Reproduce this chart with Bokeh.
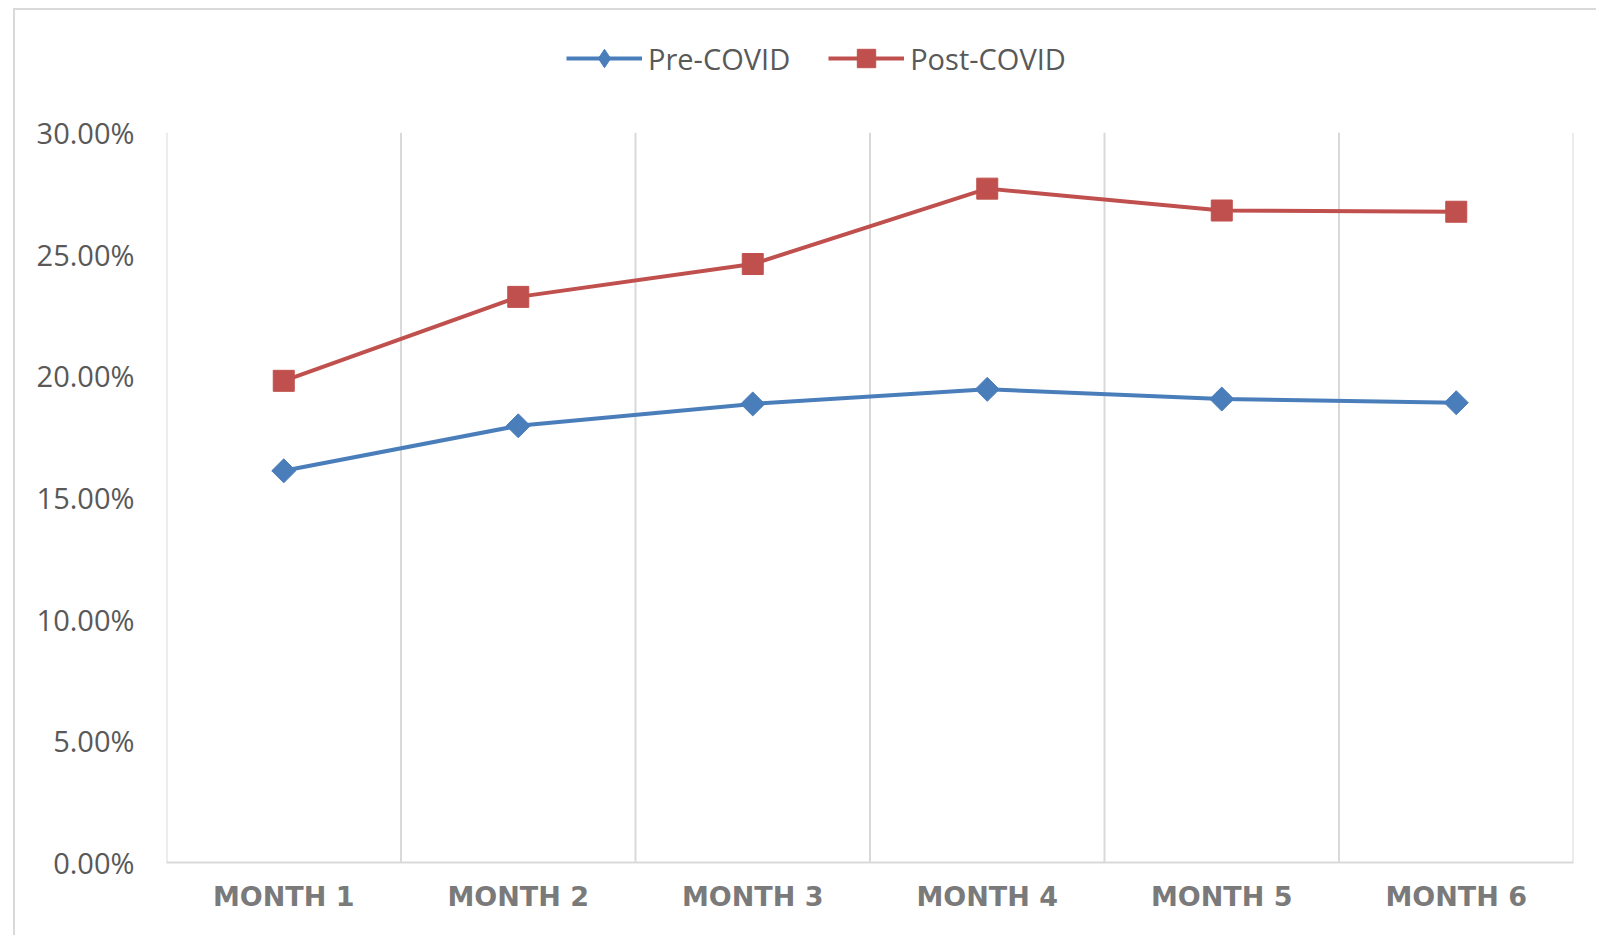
from bokeh.plotting import figure
from bokeh.models import FixedTicker, NumeralTickFormatter, Legend, LegendItem, Range1d
from bokeh.embed import file_html
from bokeh.resources import INLINE
import math

months = ["MONTH 1", "MONTH 2", "MONTH 3", "MONTH 4", "MONTH 5", "MONTH 6"]
pre_covid = [0.1610, 0.1795, 0.1885, 0.1945, 0.1905, 0.1890]
post_covid = [0.1980, 0.2325, 0.2460, 0.2770, 0.2680, 0.2675]
y_ticks = [0.0, 0.05, 0.10, 0.15, 0.20, 0.25, 0.30]

xs = list(range(1, len(months) + 1))
y_top = 0.342  # extra head-room in the frame for the legend

p = figure(width=1583, height=927, output_backend="svg", toolbar_location=None,
           x_range=Range1d(0.5, len(months) + 0.5), y_range=Range1d(0, y_top),
           min_border_left=151, min_border_right=25, min_border_top=20, min_border_bottom=75)
p.styles = {"margin-left": "13px", "margin-top": "8px",
            "border-left": "2px solid #d9d9d9", "border-top": "2px solid #d9d9d9"}
p.outline_line_color = None
p.background_fill_color = "white"
p.border_fill_color = "white"

# axes
p.xaxis.ticker = FixedTicker(ticks=xs)
p.xaxis.major_label_overrides = {i: m for i, m in zip(xs, months)}
p.xaxis.major_tick_line_color = None
p.xaxis.minor_tick_line_color = None
p.xaxis.axis_line_color = "#d9d9d9"
p.xaxis.axis_line_width = 2
p.xaxis.major_label_text_font = "DejaVu Sans"
p.xaxis.major_label_text_font_style = "bold"
p.xaxis.major_label_text_font_size = "27px"
p.xaxis.major_label_text_color = "#7a7a7a"
p.xaxis.major_label_standoff = 12

p.yaxis.ticker = FixedTicker(ticks=y_ticks)
p.yaxis.formatter = NumeralTickFormatter(format="0.00%")
p.yaxis.major_tick_line_color = None
p.yaxis.minor_tick_line_color = None
p.yaxis.axis_line_color = None
p.yaxis.major_label_text_font = "Open Sans"
p.yaxis.major_label_text_font_size = "29px"
p.yaxis.major_label_text_color = "#595959"
p.yaxis.major_label_standoff = 26

p.grid.grid_line_color = None
# vertical category-boundary gridlines, only up to the top tick
bounds = [i + 0.5 for i in range(0, len(months) + 1)]
p.segment(x0=bounds, y0=[0] * len(bounds), x1=bounds, y1=[max(y_ticks)] * len(bounds),
          line_color="#d9d9d9", line_width=2)

blue = "#4a7ebb"
red = "#c0504d"

l1 = p.line(xs, pre_covid, line_color=blue, line_width=4)
# small diamond hidden under the first marker, used for the legend symbol
d1 = p.scatter(xs[:1], pre_covid[:1], marker="diamond", size=20, fill_color=blue, line_color=blue)
m1 = p.scatter(xs, pre_covid, marker="square", angle=math.pi / 4, size=17,
               fill_color=blue, line_color=blue)
l2 = p.line(xs, post_covid, line_color=red, line_width=4)
m2 = p.scatter(xs, post_covid, marker="square", size=21, fill_color=red, line_color=red)

legend = Legend(items=[LegendItem(label="Pre-COVID", renderers=[l1, d1]),
                       LegendItem(label="Post-COVID", renderers=[l2, m2])],
                location=(400, 781), orientation="horizontal",
                glyph_width=76, glyph_height=46, label_standoff=6, spacing=38,
                padding=0, margin=0, border_line_color=None, background_fill_alpha=0,
                label_text_font="Open Sans", label_text_font_size="29px",
                label_text_color="#595959")
p.add_layout(legend, "center")

open("out.html", "w").write(file_html(p, INLINE))
